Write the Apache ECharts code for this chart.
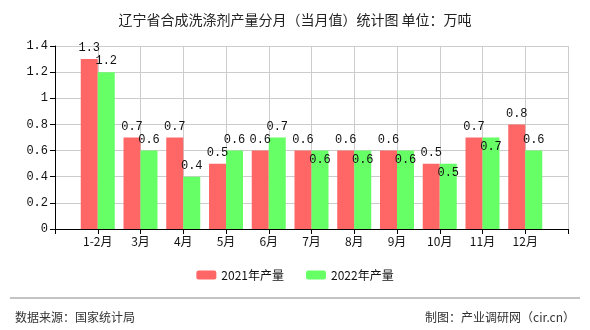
<!DOCTYPE html>
<html><head><meta charset="utf-8">
<script src="https://cdn.jsdelivr.net/npm/echarts@6/dist/echarts.min.js"></script>
<style>html,body{margin:0;padding:0;background:#fff}#c{width:590px;height:330px}</style>
</head><body><div id="c"></div>
<script>
var categories = ['', '1-2月', '3月', '4月', '5月', '6月', '7月', '8月', '9月', '10月', '11月', '12月', ''];
var values2021 = [null, 1.3, 0.7, 0.7, 0.5, 0.6, 0.6, 0.6, 0.6, 0.5, 0.7, 0.8, null];
var values2022 = [null, 1.2, 0.6, 0.4, 0.6, 0.7, 0.6, 0.6, 0.6, 0.5, 0.7, 0.6, null];
var insideLabel2022 = [false, false, false, false, false, false, true, true, true, true, true, false, false];
var yTicks = [0, 0.2, 0.4, 0.6, 0.8, 1, 1.2, 1.4];

var chart = echarts.init(document.getElementById('c'));
var monoFont = 'Liberation Mono, DejaVu Sans Mono, monospace';
var cjk = 'Noto Sans CJK SC, sans-serif';
chart.setOption({
  animation: false,
  title: [
    {text: '辽宁省合成洗涤剂产量分月（当月值）统计图 单位：万吨', left: 'center', top: 8,
     textStyle: {fontSize: 14, fontWeight: 'normal', color: '#222', fontFamily: cjk}},
    {text: '数据来源：国家统计局', left: 10, top: 306,
     textStyle: {fontSize: 12, fontWeight: 'normal', color: '#333', fontFamily: cjk}},
    {text: '制图：产业调研网（cir.cn）', right: 10, top: 306,
     textStyle: {fontSize: 12, fontWeight: 'normal', color: '#333', fontFamily: cjk}}
  ],
  graphic: [{type: 'line', shape: {x1: 10, y1: 298, x2: 580, y2: 298}, style: {stroke: '#888', lineWidth: 1}}],
  legend: {bottom: 44, left: 'center', itemWidth: 20, itemHeight: 9, itemGap: 22,
    textStyle: {fontSize: 12, color: '#111', fontFamily: cjk},
    data: ['2021年产量', '2022年产量']},
  grid: {left: 55, right: 22, top: 46, bottom: 101},
  xAxis: {type: 'category', data: categories, boundaryGap: false,
    axisLine: {lineStyle: {color: '#000'}},
    axisTick: {show: true, alignWithLabel: true, length: 5, lineStyle: {color: '#000'}},
    axisLabel: {color: '#111', fontSize: 12, fontFamily: cjk, margin: 6, interval: 0},
    splitLine: {show: true, lineStyle: {color: '#ccc'}}},
  yAxis: {type: 'value', min: 0, max: 1.4, interval: 0.2,
    axisLine: {show: true, lineStyle: {color: '#000'}},
    axisTick: {show: true, length: 5, lineStyle: {color: '#000'}},
    axisLabel: {color: '#111', fontSize: 12, fontFamily: monoFont, margin: 7,
      formatter: function (v) { var r = Math.round(v * 10) / 10; return yTicks.indexOf(r) >= 0 ? String(r) : ''; }},
    splitLine: {show: true, lineStyle: {color: '#ccc'}}},
  series: [
    {name: '2021年产量', type: 'bar', data: values2021, barWidth: 17, barGap: '0%',
     itemStyle: {color: '#FF6666'},
     label: {show: true, position: 'top', distance: 5, color: '#111', fontSize: 12, fontFamily: monoFont}},
    {name: '2022年产量', type: 'bar', barWidth: 17,
     data: values2022.map(function (v, i) {
       return insideLabel2022[i] ? {value: v, label: {position: 'insideTop', distance: 3}} : v;
     }),
     itemStyle: {color: '#66FF66'},
     label: {show: true, position: 'top', distance: 5, color: '#111', fontSize: 12, fontFamily: monoFont}}
  ]
});
</script></body></html>
